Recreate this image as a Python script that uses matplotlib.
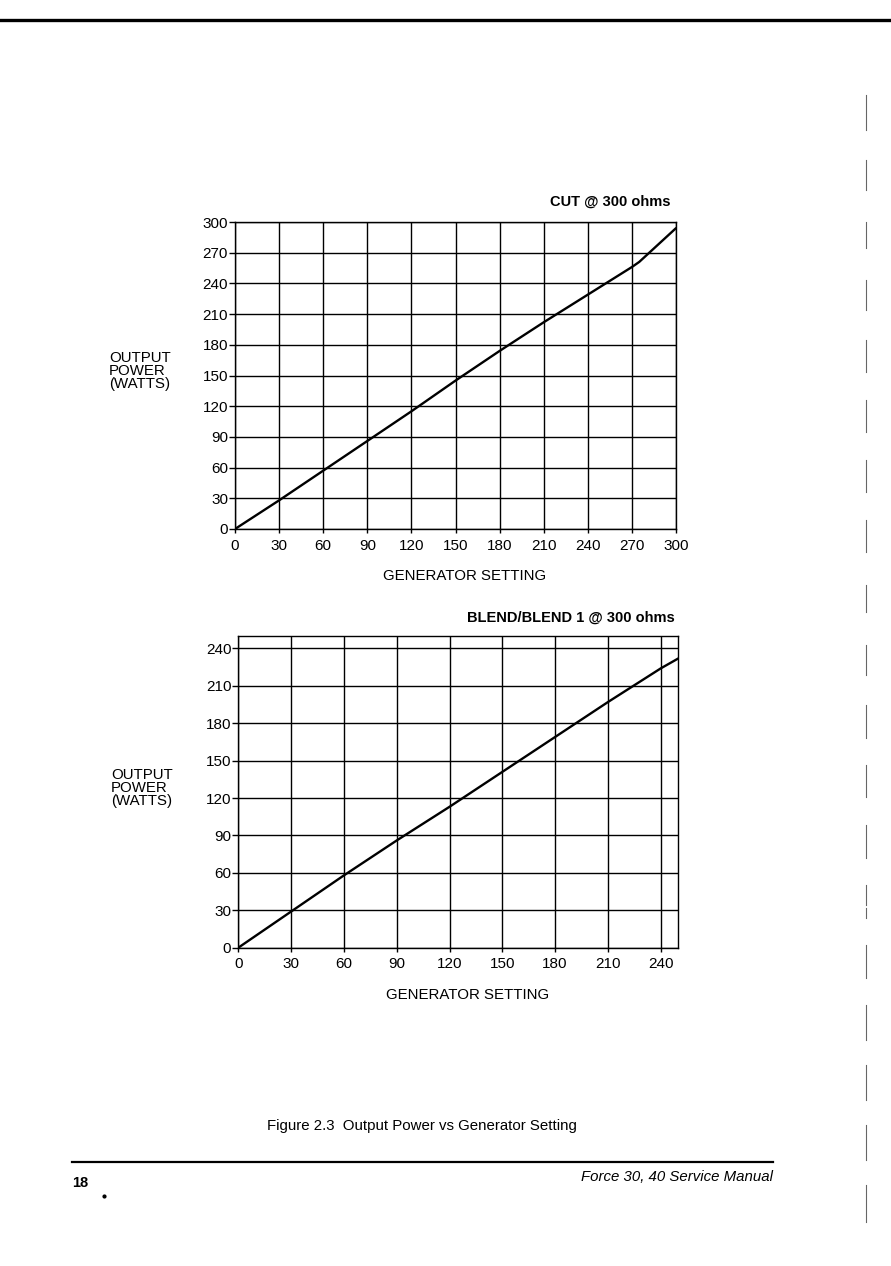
import matplotlib.pyplot as plt
from matplotlib.lines import Line2D

plt.rcParams['font.family'] = ['Liberation Sans', 'DejaVu Sans']

# CUT @ 300 ohms curve
cut_setting = [0, 30, 60, 90, 120, 150, 180, 210, 240, 270, 275, 300]
cut_power = [0, 28, 57, 86, 115, 145, 174, 202, 229, 256, 261, 294]
cut_ticks = [0, 30, 60, 90, 120, 150, 180, 210, 240, 270, 300]

# BLEND/BLEND 1 @ 300 ohms curve
blend_setting = [0, 30, 60, 90, 120, 150, 180, 210, 240, 250]
blend_power = [0, 29, 58, 86, 113, 141, 169, 197, 224, 232]
blend_ticks = [0, 30, 60, 90, 120, 150, 180, 210, 240]

W, H = 891, 1266
fig = plt.figure(figsize=(W / 100, H / 100), dpi=100)
fig.patch.set_facecolor('white')


def px(x, y):
    # page pixel -> figure fraction
    return x / W, 1 - y / H


def make_chart(rect, xs, ys, ticks, lim, title, title_xy, ylab_xy, xlab_xy):
    ax = fig.add_axes(rect)
    ax.plot(xs, ys, color='black', lw=1.7, solid_capstyle='round', zorder=3)
    ax.set_xlim(0, lim)
    ax.set_ylim(0, lim)
    ax.set_xticks(ticks)
    ax.set_yticks(ticks)
    ax.grid(True, color='black', lw=1.0)
    for s in ax.spines.values():
        s.set_linewidth(1.0)
    ax.tick_params(axis='y', direction='out', length=4, width=1, pad=1,
                   labelsize=11)
    ax.tick_params(axis='x', direction='out', length=3, width=1, pad=4,
                   labelsize=11)
    fig.text(*px(*title_xy), title, ha='right', va='center',
             fontsize=10.5, fontweight='bold')
    fig.text(*px(*ylab_xy), 'OUTPUT\nPOWER\n(WATTS)', ha='left', va='center',
             fontsize=10.8, linespacing=0.95)
    fig.text(*px(*xlab_xy), 'GENERATOR SETTING', ha='center', va='center',
             fontsize=10.8)
    return ax


make_chart([235 / W, 1 - 529 / H, 441 / W, 307 / H],
           cut_setting, cut_power, cut_ticks, 300,
           'CUT @ 300 ohms', (671, 202), (109, 371), (465, 576))

make_chart([238.3 / W, 1 - 947.7 / H, 440 / W, 311.7 / H],
           blend_setting, blend_power, blend_ticks, 250,
           'BLEND/BLEND 1 @ 300 ohms', (675, 618), (111, 788), (468, 995))

# page furniture
fig.add_artist(Line2D([0, 1], [1 - 20 / H] * 2, color='black', lw=2.4))
fig.add_artist(Line2D([72 / W, 773 / W], [1 - 1162 / H] * 2, color='black', lw=1.6))
fig.text(*px(267, 1126), 'Figure 2.3  Output Power vs Generator Setting',
         ha='left', va='center', fontsize=10.8)
fig.text(*px(72, 1183), '18', ha='left', va='center', fontsize=10.5,
         fontweight='bold')
fig.text(*px(773, 1177), 'Force 30, 40 Service Manual', ha='right',
         va='center', fontsize=10.8, style='italic')
fig.add_artist(Line2D([104 / W], [1 - 1196 / H], marker='o', markersize=2,
                      color='black', lw=0))

# binder-edge marks on the right margin
edge_marks = [(95, 130), (160, 190), (222, 248), (280, 310), (340, 372),
              (400, 432), (460, 492), (520, 552), (585, 612), (645, 675),
              (705, 738), (765, 797), (825, 858), (885, 905), (908, 918),
              (945, 978), (1005, 1040), (1065, 1100), (1125, 1160),
              (1185, 1222)]
for y0, y1 in edge_marks:
    fig.add_artist(Line2D([866 / W] * 2, [1 - y0 / H, 1 - y1 / H],
                          color='black', lw=0.8, alpha=0.6))

fig.savefig('out.png', dpi=100)
